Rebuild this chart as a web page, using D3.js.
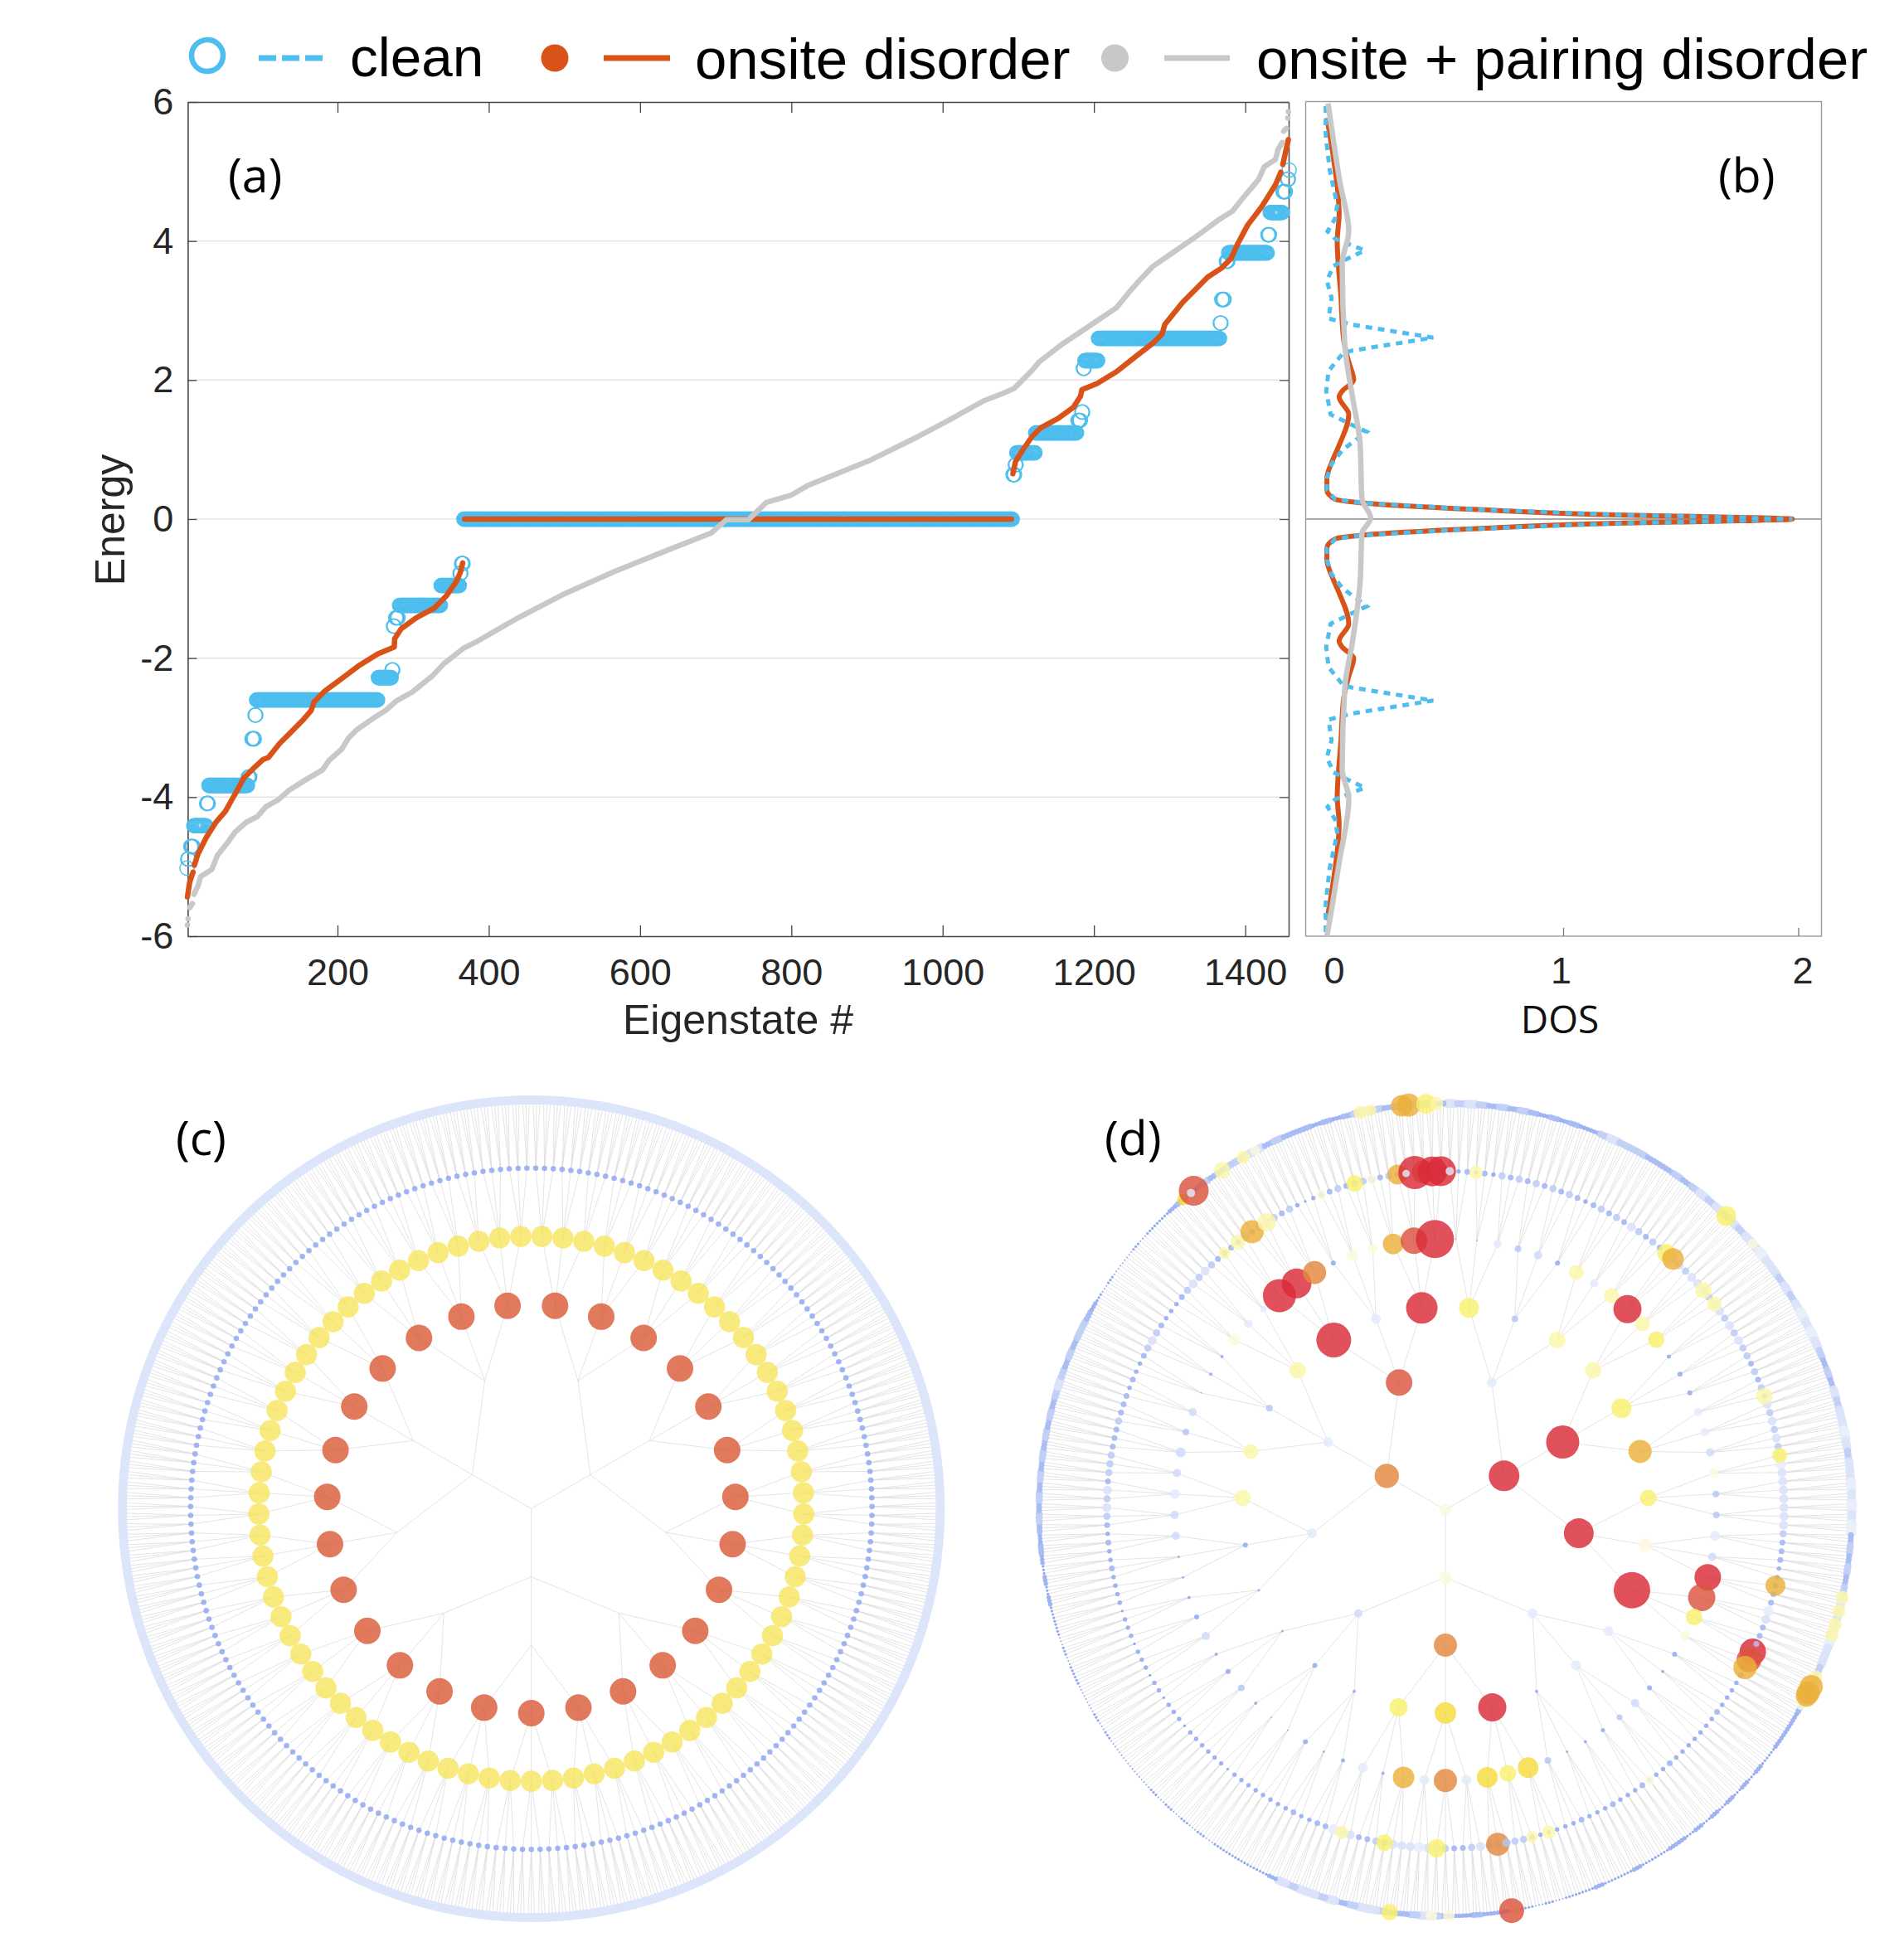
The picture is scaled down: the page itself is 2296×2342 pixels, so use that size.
<!DOCTYPE html>
<html><head><meta charset="utf-8">
<script src="https://cdn.jsdelivr.net/npm/d3@7"></script>
<style>html,body{margin:0;padding:0;background:#fff}svg{display:block}</style>
</head><body><svg id="c" width="2296" height="2342"></svg>
<script>
// ---------- panel (a) data ----------
const cleanEnergy=[-5.02,-4.89,-4.71,-4.41,-4.09,-3.83,-3.71,-3.16,-2.82,-2.6,-2.28,-2.17,-1.54,-1.42,-1.24,-0.955,-0.78,-0.64,0,0.64,0.78,0.955,1.24,1.42,1.54,2.17,2.28,2.6,2.82,3.16,3.71,3.83,4.09,4.41,4.71,4.89,5.02];
const cleanFirst=[1,2,6,10,27,30,82,87,91,93,254,272,274,277,282,337,362,364,367,1093,1096,1098,1123,1179,1184,1186,1188,1206,1367,1369,1375,1378,1430,1433,1450,1456,1458];
const cleanLast=[1,3,9,26,29,81,84,90,92,253,271,273,275,280,336,361,363,366,1092,1095,1097,1122,1177,1182,1185,1187,1205,1366,1368,1372,1377,1429,1432,1449,1453,1457,1458];
const onsiteIdx=[1.6,4.6,9,null,10.8,15.5,26.5,39.3,52,61.2,68.5,75.8,88.6,101.4,108.7,123.3,138,154.3,165.3,169,183.6,203.7,227.4,253,275,275.6,284,304,328,344.3,357,362.6,365.5,null,368,1091,null,1092.8,1096.4,1105.6,1118.4,1129.3,1153,1173,1182.3,1184,1204.2,1229.8,1255.3,1279,1290,1293.7,1317.4,1350.3,1368.6,1381.4,1390.5,1403.3,1421.6,1440,1447,null,1449.7,1457];
const onsiteE=[-5.435,-5.22,-5.08,null,-4.98,-4.82,-4.58,-4.36,-4.2,-4.02,-3.88,-3.73,-3.59,-3.46,-3.43,-3.23,-3.07,-2.89,-2.75,-2.63,-2.47,-2.31,-2.115,-1.94,-1.84,-1.72,-1.58,-1.42,-1.28,-1.1,-0.9,-0.76,-0.63,null,0,0,null,0.652,0.83,0.99,1.19,1.31,1.45,1.61,1.77,1.86,1.95,2.12,2.34,2.54,2.66,2.8,3.12,3.48,3.61,3.75,3.97,4.23,4.49,4.81,4.99,null,5.1,5.46];
const mixedIdx=[1.6,1.7,null,2.4,2.5,null,4.6,8.2,null,10,15.5,19.2,33.8,41.1,55.7,64.8,79.5,94,105,121.5,136,158,180,189,205.5,214.6,225.6,249.3,264,278.5,298.6,326,340.6,366.2,384.5,410,435.6,501,566,638,694,714,743,767,799,823,903,968,1008,1054,1080,1094.6,1116.5,1127.5,1158.5,1186,1208,1229.8,1246.2,1260.8,1277.3,1306.5,1335.7,1363,1383.2,1397.8,1417.9,1425.2,1439.8,1443.5,1449,null,1450.8,1454.4,null,1456.3,1456.4,null,1457,1457.1];
const mixedE=[-5.84,-5.84,null,-5.75,-5.75,null,-5.59,-5.53,null,-5.4,-5.28,-5.14,-5.04,-4.84,-4.64,-4.5,-4.36,-4.28,-4.14,-4.04,-3.9,-3.75,-3.61,-3.47,-3.31,-3.15,-3.03,-2.85,-2.75,-2.61,-2.49,-2.25,-2.08,-1.86,-1.76,-1.6,-1.44,-1.07,-0.755,-0.44,-0.2,-0.01,-0.01,0.24,0.34,0.49,0.84,1.19,1.42,1.7,1.81,1.88,2.12,2.26,2.52,2.72,2.88,3.04,3.26,3.44,3.63,3.85,4.07,4.29,4.43,4.63,4.89,5.07,5.17,5.32,5.42,null,5.58,5.62,null,5.77,5.77,null,5.86,5.86];
const energyTicks=[-6,-4,-2,0,2,4,6];
const stateTicks=[200,400,600,800,1000,1200,1400];
// ---------- panel (b) data ----------
const dosCleanE=[-5.94,-5.52,-5.02,-4.52,-4.33,-4.14,-4.03,-3.865,-3.72,-3.64,-3.43,-3.18,-2.886,-2.8,-2.61,-2.425,-2.385,-2.13,-1.84,-1.505,-1.338,-1.255,-1,-0.794,-0.585,-0.417,-0.284,-0.233,-0.141,-0.058,-0.025,0,0.025,0.058,0.141,0.233,0.284,0.417,0.585,0.794,1,1.255,1.338,1.505,1.84,2.13,2.385,2.425,2.61,2.8,2.886,3.18,3.43,3.64,3.72,3.865,4.03,4.14,4.33,4.52,5.02,5.52,5.94];
const dosClean=[-0.01,-0.01,0.007,0.039,0.031,-0.002,0.031,0.156,0.066,0.023,-0.005,0.015,0.002,0.096,0.447,0.104,0.063,0.002,-0.008,0.011,0.112,0.164,0.063,0.015,-0.005,-0.005,0.031,0.144,0.614,1.262,1.748,1.975,1.748,1.262,0.614,0.144,0.031,-0.005,-0.005,0.015,0.063,0.164,0.112,0.011,-0.008,0.002,0.063,0.104,0.447,0.096,0.002,0.015,-0.005,0.023,0.066,0.156,0.031,-0.002,0.031,0.039,0.007,-0.01,-0.01];
const dosOnsiteE=[-5.77,-5.19,-4.39,-4,-3.18,-2.59,-2.26,-2,-1.84,-1.755,-1.505,-1.04,-0.835,-0.585,-0.417,-0.284,-0.233,-0.141,-0.058,-0.025,0,0.025,0.058,0.141,0.233,0.284,0.417,0.585,0.835,1.04,1.505,1.755,1.84,2,2.26,2.59,3.18,4,4.39,5.19,5.77];
const dosOnsite=[-0.005,0.023,0.047,0.039,0.055,0.066,0.088,0.109,0.06,0.047,0.088,0.044,0.018,-0.005,-0.005,0.031,0.144,0.614,1.262,1.748,1.975,1.748,1.262,0.614,0.144,0.031,-0.005,-0.005,0.018,0.044,0.088,0.047,0.06,0.109,0.088,0.066,0.055,0.039,0.047,0.023,-0.005];
const dosMixedE=[-6,-5.77,-4.94,-4.02,-3.6,-2.43,-1.76,-0.92,-0.21,0.017,0.293,1.09,1.755,2.51,3.68,4.14,4.85,5.44,5.98];
const dosMixed=[-0.005,0.007,0.047,0.088,0.06,0.071,0.104,0.136,0.144,0.181,0.144,0.136,0.104,0.071,0.06,0.088,0.05,0.023,0];
const dosTicks=[0,1,2];
// ---------- panels (c)/(d) data ----------
const branching=[3,3,3,3,3,3];
const gen0Size=[7], gen0Hue="V";
const gen1Size=[18.5,8,14.7], gen1Hue="RVO";
const gen2Size=[6,20,18,6,14,5,6,6,16], gen2Hue="ERREODEES";
const gen3Size=[12,4,10,10,12,14,10,8,22,6,6,2,17,13,11,2,3,1.5,1.5,3,10,9,4,10,21,6,19];
const gen3Hue="LCPPLALVREEBRYLBBBBBPPCPRER";
const gen4Size=[1,1,5,4,5,3,9,5,9,17,9,10,2.5,3,3,5,5,5,6,4,4,6,5,16,16.5,10,6,3,2,3,5,3.5,2.5,2,1.5,4,12.5,10,12.5,6,14,6,13,2,6,2.5,1.5,3,1,1,2,4,3,2,5,3,2,1.5,1.5,5,5,6,5,6,4,5,1,2,2,7,5,4,20,18,14,3,7,6,12.5,16,23];
const gen4Hue="BBECDBPEPRPLBBBEEDVCCEDRSLVBBBDCBBBCYLYEOEABEBBBBBBCBBDBBBBDDEDDCDBBBVEERROBVVASR";
const gen5Codes=["323232434","343434323","434354343","545455545","545454434","343545454","565555555","433322333","653322223","222232222","222322232","223222322","222344554","543345565","554433556","332232222","222212222","221222122","122212221","222232232","345453444","333433323","223454322","234545433","335345434","212334344","434343434"];
const gen6Codes=["545434343","232322454","443334345","454545565","545456565","434354556","545565656","343434555","665544433","222211212","121212122","111211121","110101122","232234543","345543545","545211111","101010101","000000101","000110101","112121232","343434343","434345434","344321010","001011123","234334455","343332323","454343543"];
const gen5HiIdx=[3,27,28,33,35,47,54,69,77,78,79,96,109,111,115,122,128,133,215,217,219,221,228,232,234,237,240,239,241,242,0,238,114,76];
const gen5HiSize=[8,11,13,10,9,10,9,12,16,15,14,6,8,7,14,11,10,8,7,9,14,11,6,10,6,12,14,20,18,18,5,4.5,5,3.5];
const gen5HiHue="PLAPPPLARSAVPPOLLPPPAPVLVAORRREECC";
const gen6HiIdx=[88,99,207,211,215,218,231,240,234,236,237,344,345,363,368,380,647,651,650,661,668,672,704,707,716,718,723,726];
const gen6HiSize=[12,6,8,8,8,8,8,6,14,14,13,7,15,7,7,10,7,18,5,10,8,6,8,7,13,14,12,8];
const gen6HiHue="LVPPPPPVAAAPSVVLYSEPPVPPAALP";
const hueColor={R:"#D92B38",S:"#DC5440",O:"#E4893E",A:"#ECB03A",Y:"#F5DC3E",L:"#F9F06C",P:"#FBF6A8",V:"#FBF9DC",B:"#8FA6EE",C:"#B4C4F4",D:"#CFDAF8",E:"#E4EAFB"};
const codeSize={0:0.9,1:1.6,2:2.7,3:3.5,4:4.4,5:5.4,6:6.4};
const codeColor={0:"#7F98EC",1:"#8CA4EE",2:"#9AB0F0",3:"#A8BBF3",4:"#C2D0F6",5:"#DCE4FA",6:"#E9EEFB"};

// ---------- drawing ----------
const svg=d3.select("#c");
const sans="'Liberation Sans',Arial,sans-serif", cal="'Open Sans','Noto Sans',sans-serif";
const BLUE="#4DBEEE",ORANGE="#D95319",GRAY="#C8C8C8",INK="#262626";

// panel a
const xA=d3.scaleLinear().domain([200,1400]).range([407,1501.6]);
const yE=d3.scaleLinear().domain([-6,6]).range([1129,123]);
const L=xA(200)-(200-2)*0.9122, R=1554;
const gA=svg.append("g");
gA.append("g").selectAll("line").data(energyTicks.filter(e=>Math.abs(e)<6)).join("line")
 .attr("x1",L).attr("x2",R).attr("y1",yE).attr("y2",yE).attr("stroke","#E4E4E4").attr("stroke-width",1.5);
const styleAxis=(g,col)=>{g.selectAll("path").attr("stroke",col).attr("stroke-width",1.6);
 g.selectAll("line").attr("stroke",col).attr("stroke-width",1.3);
 g.selectAll("text").attr("font-family",sans).attr("font-size",45).attr("fill",INK);};
const xAx=d3.scaleLinear().domain([xA.invert(L),xA.invert(R)]).range([L,R]);
svg.append("g").attr("transform","translate(0,1129)").call(d3.axisBottom(xAx).tickValues(stateTicks).tickFormat(d3.format("d")).tickSizeInner(-13).tickSizeOuter(0).tickPadding(27)).call(g=>styleAxis(g,"#444"));
svg.append("g").attr("transform","translate(0,123)").call(d3.axisTop(xAx).tickValues(stateTicks).tickFormat("").tickSizeInner(-13).tickSizeOuter(0)).call(g=>styleAxis(g,"#444"));
svg.append("g").attr("transform",`translate(${L},0)`).call(d3.axisLeft(yE).tickValues(energyTicks).tickFormat(d3.format("d")).tickSizeInner(-11).tickSizeOuter(0).tickPadding(17)).call(g=>styleAxis(g,"#444")).call(g=>g.selectAll("text").text(d=>String(d)));
svg.append("g").attr("transform",`translate(${R},0)`).call(d3.axisRight(yE).tickValues(energyTicks).tickFormat("").tickSizeInner(-11).tickSizeOuter(0)).call(g=>styleAxis(g,"#555"));

const rings=cleanEnergy.flatMap((e,i)=>d3.range(cleanFirst[i],cleanLast[i]+1).map(n=>({n,e})));
svg.append("g").selectAll("circle").data(rings).join("circle")
 .attr("cx",d=>xA(d.n)).attr("cy",d=>yE(d.e)).attr("r",8.6).attr("fill","none").attr("stroke",BLUE).attr("stroke-width",1.4);
const lineA=d3.line().defined(d=>d[0]!==null).x(d=>xA(d[0])).y(d=>yE(d[1]));
svg.append("path").attr("d",lineA(onsiteIdx.map((x,i)=>[x,onsiteE[i]]))).attr("fill","none").attr("stroke",ORANGE).attr("stroke-width",6.5).attr("stroke-linecap","round").attr("stroke-linejoin","round");
svg.append("path").attr("d",lineA(mixedIdx.map((x,i)=>[x,mixedE[i]]))).attr("fill","none").attr("stroke",GRAY).attr("stroke-width",6.5).attr("stroke-linecap","round").attr("stroke-linejoin","round");
svg.append("text").attr("x",890).attr("y",1247).attr("text-anchor","middle").attr("font-family",sans).attr("font-size",50).attr("fill",INK).text("Eigenstate #");
svg.append("text").attr("transform","translate(150,627) rotate(-90)").attr("text-anchor","middle").attr("font-family",sans).attr("font-size",50).attr("fill",INK).text("Energy");

// panel b
const xD=d3.scaleLinear().domain([0,1,2]).range([1601.5,1885,2168.5]);
const BL=1574.5,BR=2196.5;
const xDax=d3.scaleLinear().domain([xD.invert(BL),xD.invert(BR)]).range([BL,BR]);
svg.append("rect").attr("x",BL).attr("y",122.5).attr("width",BR-BL).attr("height",1006.5).attr("fill","none").attr("stroke","#9A9A9A").attr("stroke-width",1.4);
const labelShift=[7,-3,5];
svg.append("g").attr("transform","translate(0,1129)").call(d3.axisBottom(xDax).tickValues(dosTicks).tickFormat(d3.format("d")).tickSizeInner(-10).tickSizeOuter(0).tickPadding(25)).call(g=>styleAxis(g,"#777")).call(g=>g.select("path").remove()).call(g=>g.selectAll("text").attr("dx",(d,i)=>labelShift[i]));
svg.append("line").attr("x1",BL).attr("x2",BR).attr("y1",yE(0)).attr("y2",yE(0)).attr("stroke","#A8A8A8").attr("stroke-width",2);
const lineD=d3.line().x(d=>xD(d[0])).y(d=>yE(d[1]));
const lineDs=d3.line().curve(d3.curveMonotoneY).x(d=>xD(d[0])).y(d=>yE(d[1]));
svg.append("path").attr("d",lineDs(dosOnsite.map((v,i)=>[v,dosOnsiteE[i]]))).attr("fill","none").attr("stroke",ORANGE).attr("stroke-width",6).attr("stroke-linejoin","round");
svg.append("path").attr("d",lineD(dosClean.map((v,i)=>[v,dosCleanE[i]]))).attr("fill","none").attr("stroke",BLUE).attr("stroke-width",5).attr("stroke-dasharray","8 7");
svg.append("path").attr("d",lineDs(dosMixed.map((v,i)=>[v,dosMixedE[i]]))).attr("fill","none").attr("stroke",GRAY).attr("stroke-width",6.5);
svg.append("text").attr("x",1881).attr("y",1246).attr("text-anchor","middle").attr("font-family",cal).attr("font-size",46).attr("fill","#111").text("DOS");

// legend
const lg=svg.append("g");
lg.append("circle").attr("cx",250).attr("cy",67).attr("r",19).attr("fill","none").attr("stroke",BLUE).attr("stroke-width",6.5);
lg.append("line").attr("x1",312).attr("x2",389).attr("y1",70).attr("y2",70).attr("stroke",BLUE).attr("stroke-width",7).attr("stroke-dasharray","21 7");
lg.append("circle").attr("cx",669).attr("cy",70).attr("r",16.5).attr("fill",ORANGE);
lg.append("line").attr("x1",728).attr("x2",808).attr("y1",70).attr("y2",70).attr("stroke",ORANGE).attr("stroke-width",7);
lg.append("circle").attr("cx",1344.5).attr("cy",70).attr("r",16.5).attr("fill",GRAY);
lg.append("line").attr("x1",1404).attr("x2",1483).attr("y1",70).attr("y2",70).attr("stroke",GRAY).attr("stroke-width",7);
[["clean",422,92,67.5],["onsite disorder",838,95,69],["onsite + pairing disorder",1515,95,68.9]].forEach(t=>
 lg.append("text").attr("x",t[1]).attr("y",t[2]).attr("font-family",sans).attr("font-size",t[3]).attr("fill","#000").text(t[0]));

// panel labels
[["(a)",275,232],["(b)",2072,232],["(c)",212,1393],["(d)",1332,1393]].forEach(t=>
 svg.append("text").attr("x",t[1]).attr("y",t[2]).attr("font-family",cal).attr("font-size",57).attr("fill","#000").text(t[0]));

// trees
function makeTree(R){
 const build=lvl=>lvl>=branching.length?{}:{children:d3.range(branching[lvl]).map(()=>build(lvl+1))};
 const root=d3.hierarchy(build(0));
 d3.cluster().size([2*Math.PI,R]).separation(()=>1)(root);
 return root;
}
function drawLinks(g,root,col,w,op){
 g.append("g").attr("fill","none").attr("stroke",col).attr("stroke-width",w).attr("stroke-opacity",op)
  .selectAll("path").data(root.links()).join("path")
  .attr("d",l=>d3.line()([d3.pointRadial(l.source.x,l.source.y),d3.pointRadial(l.target.x,l.target.y)]));
}
// panel c
const gc=svg.append("g").attr("transform","translate(640.7,1819.5)");
const rootC=makeTree(493);
drawLinks(gc,rootC,"#D8D8D8",1,0.7);
const ofGen=(root,g)=>root.descendants().filter(d=>d.depth===g);
const cStyle=[{g:6,r:5.6,f:"#DCE5FA",o:1},{g:5,r:3.3,f:"#8AA4F0",o:0.8},{g:4,r:12.8,f:"#F7E55E",o:0.8},{g:3,r:16,f:"#D9532F",o:0.78}];
cStyle.forEach(s=>gc.append("g").selectAll("circle").data(ofGen(rootC,s.g)).join("circle")
 .attr("transform",d=>`translate(${d3.pointRadial(d.x,d.y)})`).attr("r",s.r).attr("fill",s.f).attr("fill-opacity",s.o));

// panel d
const gd=svg.append("g").attr("transform","translate(1743,1820.7)");
const rootD=makeTree(490);
drawLinks(gd,rootD,"#D8D8D8",1,0.7);
const place=(sel)=>sel.attr("transform",d=>`translate(${d3.pointRadial(d.n.x,d.n.y)})`).attr("r",d=>d.r).attr("fill",d=>d.f).attr("fill-opacity",d=>d.o);
const leaves6=ofGen(rootD,6), nodes5=ofGen(rootD,5);
const codes6=gen6Codes.join(""), codes5=gen5Codes.join("");
const leafData=leaves6.map((n,i)=>{const c=codes6[Math.floor(i/3)];return {n,r:codeSize[c],f:codeColor[c],o:0.95};});
place(gd.append("g").selectAll("circle").data(leafData).join("circle"));
place(gd.append("g").selectAll("circle").data(gen6HiIdx.map((k,i)=>({n:leaves6[k],r:gen6HiSize[i],f:hueColor[gen6HiHue[i]],o:0.82}))).join("circle"));
const data5=nodes5.map((n,i)=>{const c=codes5[i];return {n,r:codeSize[c],f:codeColor[c],o:0.95};});
place(gd.append("g").selectAll("circle").data(data5).join("circle"));
place(gd.append("g").selectAll("circle").data(gen5HiIdx.map((k,i)=>({n:nodes5[k],r:gen5HiSize[i],f:hueColor[gen5HiHue[i]],o:0.82}))).join("circle"));
[[4,gen4Size,gen4Hue],[3,gen3Size,gen3Hue],[2,gen2Size,gen2Hue],[1,gen1Size,gen1Hue],[0,gen0Size,gen0Hue]].forEach(([g,sz,hue])=>{
 const ns=ofGen(rootD,g);
 place(gd.append("g").selectAll("circle").data(ns.map((n,i)=>({n,r:sz[i],f:hueColor[hue[i]],o:0.82}))).join("circle"));
});
</script></body></html>
